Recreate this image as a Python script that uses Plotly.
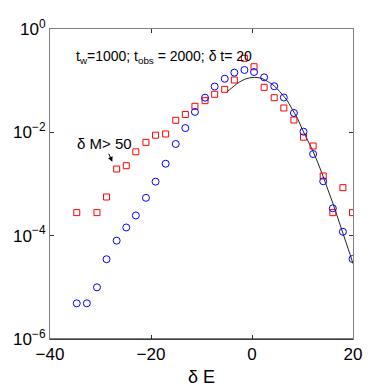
"""
Energy-change distribution, log scale (MATLAB-style figure)
"""

import plotly.graph_objects as go

# delta E bin centres
delta_e = [-34.7, -32.7, -30.7, -28.8, -26.8, -24.9, -23.0, -21.0, -19.1, -17.1,
           -15.1, -13.2, -11.3, -9.3, -7.4, -5.4, -3.5, -1.5, 0.4, 2.4,
           4.4, 6.3, 8.3, 10.2, 12.1, 14.1, 16.0, 18.0, 19.9]

# all moves (blue circles)
p_all = [4.9e-6, 4.9e-6, 1.0e-5, 3.5e-5, 8.0e-5, 1.44e-4, 2.46e-4, 5.4e-4, 1.11e-3, 2.47e-3,
         5.95e-3, 0.0121, 0.0248, 0.0468, 0.077, 0.109, 0.143, 0.161, 0.147, 0.116,
         0.078, 0.0472, 0.0237, 0.0103, 3.8e-3, 1.13e-3, 3.39e-4, 1.19e-4, 3.54e-5]

# delta M > 50 (red squares), no point at -32.7
delta_e_big = [-34.7, -30.7, -28.8, -26.8, -24.9, -23.0, -21.0, -19.1, -17.1,
               -15.1, -13.2, -11.3, -9.3, -7.4, -5.4, -3.5, -1.5, 0.4, 2.4,
               4.4, 6.3, 8.3, 10.2, 12.1, 14.1, 16.0, 18.0, 19.9]
p_big = [2.79e-4, 2.79e-4, 5.6e-4, 1.95e-3, 2.26e-3, 4.2e-3, 6.4e-3, 8.8e-3, 9.3e-3,
         0.0171, 0.0222, 0.0319, 0.041, 0.0545, 0.068, 0.103, 0.271, 0.186, 0.0744,
         0.0468, 0.0296, 0.0173, 8.05e-3, 5.44e-3, 1.43e-3, 2.79e-4, 8.5e-4, 2.79e-4]

# fitted curve (black line)
fit_x = [-5, -4, -3, -2, -1, 0, 1, 2, 3, 4, 5, 6, 7, 8, 9, 10,
         11, 12, 13, 14, 15, 16, 17, 18, 19, 20]
fit_y = [0.0603, 0.0724, 0.0871, 0.100, 0.110, 0.115, 0.115, 0.110, 0.0977, 0.0851,
         0.0692, 0.0537, 0.0407, 0.0275, 0.0186, 0.0112, 0.00708, 0.00447, 0.00263,
         0.00148, 7.9e-4, 4.27e-4, 2.19e-4, 1.12e-4, 5.75e-5, 2.88e-5]

x_ticks = [-40, -20, 0, 20]
x_tick_text = ["−40", "−20", "0", "20"]
y_ticks = [1e-6, 1e-4, 1e-2, 1]
y_tick_text = ["10<sup>−6</sup>", "10<sup>−4</sup>", "10<sup>−2</sup>", "10<sup>0</sup>"]

FONT = "Liberation Sans Narrow, Liberation Sans, Arial, sans-serif"

fig = go.Figure()

fig.add_trace(go.Scatter(
    x=fit_x, y=fit_y, mode="lines", line_shape="spline",
    line=dict(color="#222222", width=1), hoverinfo="skip",
))
fig.add_trace(go.Scatter(
    x=delta_e_big, y=p_big, mode="markers",
    marker=dict(symbol="square-open", size=6, color="red", line=dict(width=1)),
))
fig.add_trace(go.Scatter(
    x=delta_e, y=p_all, mode="markers",
    marker=dict(symbol="circle-open", size=7, color="blue", line=dict(width=1)),
))

axis_common = dict(
    showgrid=False, zeroline=False, showline=True, linecolor="#808080",
    linewidth=1, mirror="ticks", ticks="inside", ticklen=4, automargin=False,
    tickcolor="#333333", tickfont=dict(family=FONT, size=17, color="black"),
)

fig.update_xaxes(range=[-40, 20], tickvals=x_ticks, ticktext=x_tick_text,
                 title=dict(text="δ E", font=dict(family=FONT, size=18, color="black"),
                            standoff=6),
                 **axis_common)
fig.update_yaxes(type="log", range=[-6, 0], tickvals=y_ticks,
                 ticktext=y_tick_text, **axis_common)

fig.add_shape(type="line", xref="paper", yref="paper", x0=0, x1=1, y0=0, y1=0,
              line=dict(color="black", width=1.2))

fig.add_annotation(
    xref="paper", yref="paper", x=0.08, y=0.91, xanchor="left", yanchor="middle",
    text="t<sub>w</sub>=1000; t<sub>obs</sub> = 2000; δ t= 20", showarrow=False,
    font=dict(family=FONT, size=14, color="black"),
)
fig.add_annotation(
    x=-27.66, y=-2.57, text="δ M> 50", showarrow=True,
    arrowhead=2, arrowsize=1, arrowwidth=1, arrowcolor="black",
    ax=-8, ay=-18, font=dict(family=FONT, size=15, color="black"),
)

# page body adds an 8px offset, so the figure is drawn a little smaller
fig.update_layout(
    width=382, height=382, showlegend=False,
    template="plotly_white", plot_bgcolor="white", paper_bgcolor="white",
    margin=dict(l=42, r=37, t=21, b=51),
)

fig.write_html("out.html")
